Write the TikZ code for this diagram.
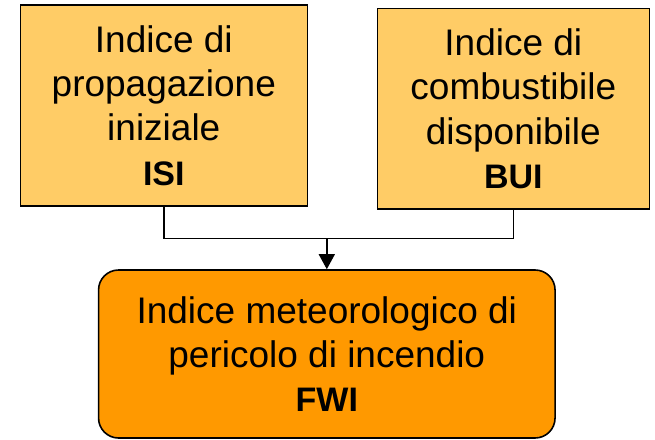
\documentclass[tikz,border=0pt]{standalone}
\usepackage{fontspec}
\setmainfont{Liberation Sans}
\usetikzlibrary{arrows.meta}
\definecolor{lightorange}{HTML}{FFCC66}
\definecolor{darkorange}{HTML}{FF9900}
\newcommand{\acr}[1]{{\bfseries\fontsize{34}{44.4}\selectfont #1}}
\begin{document}
\begin{tikzpicture}[x=1pt,y=-1pt,
  boxstyle/.style={draw=black, line width=1.6pt, inner sep=0pt, align=center,
    font=\fontsize{37}{44.4}\selectfont},
  connector/.style={draw=black, line width=1.5pt},
  arrowline/.style={connector, -{Triangle[length=15pt,width=16pt]}}]
\useasboundingbox (0,0) rectangle (655,439);
\node[boxstyle, fill=lightorange, minimum width=287pt, minimum height=201pt]
  (L) at (163.8,105.5) {Indice di\\propagazione\\iniziale\\\acr{ISI}};
\node[boxstyle, fill=lightorange, minimum width=272pt, minimum height=200.7pt]
  (R) at (513.3,108.7) {Indice di\\combustibile\\disponibile\\\acr{BUI}};
\node[boxstyle, fill=darkorange, rounded corners=20pt, minimum width=456.5pt, minimum height=168pt]
  (B) at (326.8,354) {Indice meteorologico di\\pericolo di incendio\\\acr{FWI}};
\coordinate (J) at (326.8,238.5);
\draw[connector] (L.south) |- (J) -| (R.south);
\draw[arrowline] (J) -- (B.north);
\end{tikzpicture}
\end{document}
